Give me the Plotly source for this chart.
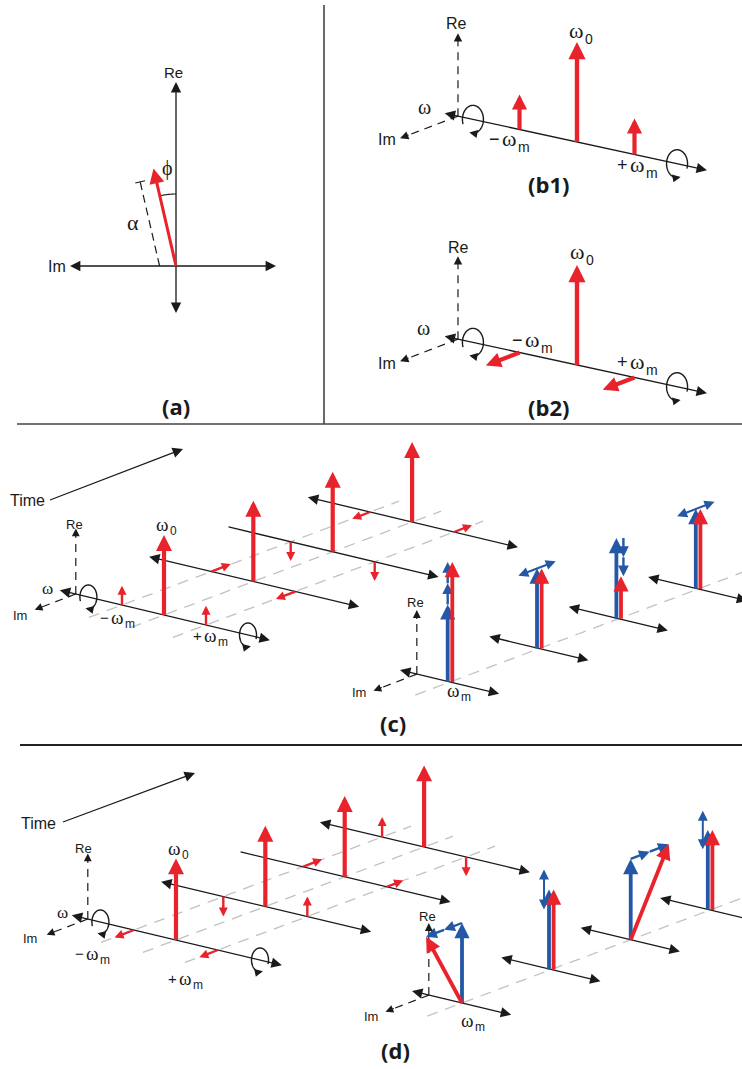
import numpy as np
import plotly.graph_objects as go

W, H = 742, 1069
RED = "#E8232B"
BLUE = "#2458A6"
BLACK = "#1A1A1A"
GREY = "#C2C2C2"
SANS = "Liberation Sans, Arial, sans-serif"
SERIF = "Liberation Serif, serif"
BOLD = "Open Sans, Liberation Sans, sans-serif"

# ------------------------------------------------------------------ data
# (a) one phasor: amplitude alpha and phase phi (degrees from the Re axis)
A_AMPLITUDE = 1.0
A_PHASE_DEG = 13.0

# (b1) amplitude modulation, (b2) phase modulation: lines at -wm, w0, +wm
B_FREQ = [-1.0, 0.0, 1.0]
B1_RE = [0.35, 1.0, 0.36]
B1_IM = [0.0, 0.0, 0.0]
B2_RE = [0.0, 1.0, 0.0]
B2_IM = [0.36, 0.0, 0.34]

# (c), (d): four snapshots along time
SNAP_T = [0.0, 1.08, 2.04, 3.0]
SIDEBAND_F = [-1.0, 1.0]
C_CARRIER = [1.0, 1.01, 1.0, 1.0]
C_LSB_RE = [0.24, 0.0, -0.24, 0.0]
C_LSB_IM = [0.0, -0.26, 0.0, 0.24]
C_USB_RE = [0.24, 0.0, -0.24, 0.0]
C_USB_IM = [0.0, 0.26, 0.0, -0.24]
D_CARRIER = [1.02, 1.01, 1.01, 1.02]
D_LSB_RE = [0.0, -0.25, 0.0, 0.25]
D_LSB_IM = [0.26, 0.0, -0.26, 0.0]
D_USB_RE = [0.0, 0.25, 0.0, -0.24]
D_USB_IM = [0.25, 0.0, -0.22, 0.0]

# component at wm: blue reference + two blue sideband terms -> red resultant
C_REF = [0.97, 1.0, 1.01, 1.0]
C_SB1_RE = [0.265, 0.0, -0.24, 0.0]
C_SB1_IM = [0.0, 0.25, 0.0, 0.25]
C_SB2_RE = [0.265, 0.0, -0.24, 0.0]
C_SB2_IM = [0.0, -0.25, 0.0, -0.25]
D_REF = [1.0, 1.0, 1.01, 1.0]
D_SB1_RE = [0.0, 0.25, 0.0, 0.24]
D_SB1_IM = [0.24, 0.0, -0.255, 0.0]
D_SB2_RE = [0.0, -0.25, 0.0, -0.24]
D_SB2_IM = [0.24, 0.0, -0.255, 0.0]

# ------------------------------------------------------------------ geometry (drawing layout)
IMDIR = np.array([-0.934, 0.358])
GEO = {
    "b1": dict(o=(577, 142), U=(57.5, 12.5), T=(0, 0), S=100),
    "b2": dict(o=(577, 365), U=(57.5, 12.5), T=(0, 0), S=100),
    "cL": dict(o=(164, 615), U=(42, 10), T=(82.7, -31), S=80),
    "cR": dict(o=(450, 682), U=(42, 10), T=(82.7, -31), S=80),
    "dL": dict(o=(176, 940), U=(42, 10), T=(82.7, -31), S=80),
    "dR": dict(o=(462, 1003), U=(42, 10), T=(82.7, -31), S=80),
}


def proj(key, f=0.0, t=0.0, re=0.0, im=0.0):
    g = GEO[key]
    x = g["o"][0] + f * g["U"][0] + t * g["T"][0] + im * g["S"] * IMDIR[0]
    y = g["o"][1] + f * g["U"][1] + t * g["T"][1] - re * g["S"] + im * g["S"] * IMDIR[1]
    return (float(x), float(y))


ann, shp = [], []


def arrow(p0, p1, color, width, size, both=False, head=2):
    ann.append(dict(x=p1[0], y=p1[1], ax=p0[0], ay=p0[1], xref="x", yref="y",
                    axref="x", ayref="y", text="", showarrow=True, arrowhead=head,
                    arrowsize=size, arrowwidth=width, arrowcolor=color,
                    arrowside="end+start" if both else "end",
                    startarrowhead=head, startarrowsize=size, standoff=0,
                    startstandoff=0, borderpad=0, borderwidth=0, font=dict(size=1)))


def seg(p0, p1, color, width, dash=None):
    ln = dict(color=color, width=width)
    if dash:
        ln["dash"] = dash
    shp.append(dict(type="line", xref="x", yref="y", x0=p0[0], y0=p0[1],
                    x1=p1[0], y1=p1[1], line=ln, layer="above"))


def dashed_arrow(p0, p1, color=BLACK, width=1.2, size=1.4, head_len=9):
    v = np.subtract(p1, p0)
    u = v / np.hypot(*v)
    q = tuple(np.array(p1) - u * head_len)
    seg(p0, q, color, width, "8px,6px")
    arrow(q, p1, color, width, size)


def path(xs, ys, color, width):
    d = "M " + " L ".join(f"{x:.2f},{y:.2f}" for x, y in zip(xs, ys))
    shp.append(dict(type="path", path=d, xref="x", yref="y",
                    line=dict(color=color, width=width), layer="above"))


def rotation(c, a, b, sense):
    if sense < 0:
        th = np.radians(np.linspace(200, -110, 80))
    else:
        th = np.radians(np.linspace(-20, 290, 80))
    xs = c[0] + a * np.cos(th)
    ys = c[1] - b * np.sin(th)
    path(xs[:-3], ys[:-3], BLACK, 1.4)
    arrow((xs[-7], ys[-7]), (xs[-1], ys[-1]), BLACK, 1.4, 1.15)


def label(x, y, s, size=14, family=SANS, color=BLACK, xanchor="center"):
    ann.append(dict(x=x, y=y, xref="x", yref="y", text=s, showarrow=False,
                    font=dict(size=size, family=family, color=color),
                    xanchor=xanchor, yanchor="middle"))


def wlabel(cx, cy, size, prefix="", sub=""):
    """omega glyph centred at (cx, cy) with optional sign and subscript."""
    label(cx, cy - 0.1 * size, "ω", size, SERIF)
    if prefix:
        label(cx - 0.3 * size, cy - 0.08 * size, prefix, int(round(size * 0.8)), SANS,
              xanchor="right")
    if sub:
        label(cx + 0.3 * size, cy + 0.28 * size, sub, int(round(size * 0.62)), SANS,
              xanchor="left")


# ------------------------------------------------------------------ separators
seg((324, 5), (324, 424), "#444444", 1.6)
seg((17, 424), (742, 424), "#444444", 1.6)
seg((20, 745), (742, 745), "#222222", 1.8)

# ------------------------------------------------------------------ (a)
OA, SA = (176.0, 266.0), 100.0
arrow((OA[0], OA[1] + 47), (OA[0], OA[1] - 184), BLACK, 1.3, 1.6, both=True)
arrow((OA[0] - 106, OA[1]), (OA[0] + 100, OA[1]), BLACK, 1.3, 1.6, both=True)
ph = np.radians(A_PHASE_DEG)
dvec = np.array([-np.sin(ph), -np.cos(ph)])
nvec = np.array([-np.cos(ph), np.sin(ph)])
tip = np.array(OA) + A_AMPLITUDE * SA * dvec
d0 = np.array(OA) + 16 * nvec + 16 * np.tan(ph) * dvec
d1 = np.array(OA) + 16 * nvec + (A_AMPLITUDE * SA - 10) * dvec
seg(tuple(d0), tuple(d1), BLACK, 1.2, "8px,5px")
seg(tuple(d1 - 5 * nvec), tuple(d1 + 5 * nvec), BLACK, 1.2)
arc_t = np.linspace(0, ph, 20)
path(OA[0] - 72 * np.sin(arc_t), OA[1] - 72 * np.cos(arc_t), BLACK, 1.1)
arrow(OA, tuple(tip), RED, 3, 1.0)
label(173, 72, "Re", 15)
label(57, 266, "Im", 16)
label(167, 168, "ϕ", 20, SERIF)
label(133, 222, "α", 22, SERIF)
label(176, 406, "<b>(a)</b>", 22, BOLD)


# ------------------------------------------------------------------ (b1), (b2)
def draw_b(key, re_l, im_l):
    arrow(proj(key, f=-2.3), proj(key, f=2.26), BLACK, 1.3, 1.6, both=True)
    base = proj(key, f=-2.07)
    dashed_arrow(base, proj(key, f=-2.07, re=0.83))
    dashed_arrow(base, proj(key, f=-2.07, im=0.62))
    rotation(proj(key, f=-1.81), 10.5, 14, -1)
    rotation(proj(key, f=1.74), 10.5, 14, 1)
    for f, r, i in zip(B_FREQ, re_l, im_l):
        w, s = (4.4, 0.78) if f == 0 else (4.2, 0.72)
        arrow(proj(key, f=f), proj(key, f=f, re=r, im=i), RED, w, s)


draw_b("b1", B1_RE, B1_IM)
label(456, 23, "Re", 16)
label(387, 139, "Im", 16)
wlabel(424, 109, 20)
wlabel(576, 33, 22, sub="0")
wlabel(509, 141, 22, prefix="−", sub="m")
wlabel(637, 167, 22, prefix="+", sub="m")
label(548, 184, "<b>(b1)</b>", 22, BOLD)

draw_b("b2", B2_RE, B2_IM)
label(458, 247, "Re", 16)
label(387, 363, "Im", 16)
wlabel(423, 330, 20)
wlabel(577, 254, 22, sub="0")
wlabel(532, 342, 22, prefix="−", sub="m")
wlabel(637, 364, 22, prefix="+", sub="m")
label(548, 407, "<b>(b2)</b>", 22, BOLD)


# ------------------------------------------------------------------ (c), (d)
traces = []


def guides(key, fs, t0, t1):
    xs, ys = [], []
    for f in fs:
        a, b = proj(key, f=f, t=t0), proj(key, f=f, t=t1)
        xs += [a[0], b[0], None]
        ys += [a[1], b[1], None]
    traces.append(go.Scatter(x=xs, y=ys, mode="lines", hoverinfo="skip",
                             line=dict(color=GREY, width=1.3, dash="11px,8px")))


def draw_left(key, carrier, lre, lim, ure, uim):
    guides(key, [SIDEBAND_F[0], 0.0, SIDEBAND_F[1]], -0.4, 3.35)
    for k in reversed(range(4)):
        t = SNAP_T[k]
        arrow(proj(key, f=-2.48, t=t), proj(key, f=2.52, t=t), BLACK, 1.3, 1.6, both=(k != 2))
        arrow(proj(key, t=t), proj(key, t=t, re=carrier[k]), RED, 4.2, 0.76)
        for f, r, i in ((SIDEBAND_F[0], lre[k], lim[k]), (SIDEBAND_F[1], ure[k], uim[k])):
            arrow(proj(key, f=f, t=t), proj(key, f=f, t=t, re=r, im=i), RED, 2.4, 0.75)
    base = proj(key, f=-2.1)
    dashed_arrow(base, proj(key, f=-2.1, re=0.82), size=1.3)
    dashed_arrow(base, proj(key, f=-2.1, im=0.55), size=1.3)
    rotation(proj(key, f=-1.8), 8.5, 12, -1)
    rotation(proj(key, f=2.0), 8.5, 12, 1)


def draw_right(key, ref, s1r, s1i, s2r, s2i, sb_dx, re_len):
    guides(key, [0.0], -0.42, 3.7)
    for k in reversed(range(4)):
        t = SNAP_T[k]
        arrow(proj(key, f=-1.19, t=t), proj(key, f=1.17, t=t), BLACK, 1.3, 1.6, both=True)
        rr = ref[k] + s1r[k] + s2r[k]
        ri = s1i[k] + s2i[k]
        side = 2.3 if abs(ri) < 1e-9 else 0.0
        b0 = proj(key, t=t)
        bt = proj(key, t=t, re=ref[k])
        arrow((b0[0] - side, b0[1]), (bt[0] - side, bt[1]), BLUE, 3.8, 0.8)
        sb1 = (s1r[k], s1i[k])
        sb2 = (s2r[k], s2i[k])
        dx = sb_dx[k] - side
        if abs(sb1[0] + sb2[0]) < 1e-9 and abs(sb1[1] + sb2[1]) < 1e-9:
            p1 = proj(key, t=t, re=ref[k] + sb1[0], im=sb1[1])
            p2 = proj(key, t=t, re=ref[k] + sb2[0], im=sb2[1])
            arrow((p2[0] + dx, p2[1]), (p1[0] + dx, p1[1]), BLUE, 2.0, 1.0, both=True)
        else:
            q0 = proj(key, t=t, re=ref[k])
            q1 = proj(key, t=t, re=ref[k] + sb1[0], im=sb1[1])
            q2 = proj(key, t=t, re=ref[k] + sb1[0] + sb2[0], im=sb1[1] + sb2[1])
            arrow((q0[0] + dx, q0[1]), (q1[0] + dx, q1[1]), BLUE, 2.4, 0.9)
            arrow((q1[0] + dx, q1[1]), (q2[0] + dx, q2[1]), BLUE, 2.4, 0.9)
        rt = proj(key, t=t, re=rr, im=ri)
        arrow((b0[0] + side, b0[1]), (rt[0] + side, rt[1]), RED, 3.8, 0.8)
    base = proj(key, f=-0.79)
    dashed_arrow(base, proj(key, f=-0.79, re=re_len), size=1.3)
    dashed_arrow(base, proj(key, f=-0.79, im=0.58), size=1.3)


# (c)
arrow((50, 500), (183, 449), BLACK, 1.3, 1.6)
label(27, 500, "Time", 16)
draw_left("cL", C_CARRIER, C_LSB_RE, C_LSB_IM, C_USB_RE, C_USB_IM)
draw_right("cR", C_REF, C_SB1_RE, C_SB1_IM, C_SB2_RE, C_SB2_IM, [0, 0, 7, 0], 0.8)
label(74, 524, "Re", 13)
label(20, 615, "Im", 13)
wlabel(47, 590, 17)
wlabel(162, 526, 19, sub="0")
wlabel(117, 619, 19, prefix="−", sub="m")
wlabel(210, 637, 19, prefix="+", sub="m")
label(415, 602, "Re", 13)
label(359, 692, "Im", 13)
wlabel(453, 692, 19, sub="m")
label(393, 723, "<b>(c)</b>", 22, BOLD)

# (d)
arrow((63, 822), (195, 773), BLACK, 1.3, 1.6)
label(38, 823, "Time", 16)
draw_left("dL", D_CARRIER, D_LSB_RE, D_LSB_IM, D_USB_RE, D_USB_IM)
draw_right("dR", D_REF, D_SB1_RE, D_SB1_IM, D_SB2_RE, D_SB2_IM, [0, -5, 0, -5], 0.9)
label(83, 848, "Re", 13)
label(30, 938, "Im", 13)
wlabel(62, 914, 17)
wlabel(174, 850, 19, sub="0")
wlabel(92, 955, 19, prefix="−", sub="m")
wlabel(185, 980, 19, prefix="+", sub="m")
label(427, 916, "Re", 13)
label(371, 1016, "Im", 13)
wlabel(467, 1022, 19, sub="m")
label(395, 1050, "<b>(d)</b>", 22, BOLD)

fig = go.Figure(traces)
fig.update_layout(
    width=W, height=H, autosize=False,
    margin=dict(l=0, r=0, t=0, b=0),
    xaxis=dict(range=[0, W], visible=False, fixedrange=True),
    yaxis=dict(range=[H, 0], visible=False, fixedrange=True),
    plot_bgcolor="white", paper_bgcolor="white", showlegend=False,
    annotations=ann, shapes=shp,
)
fig.write_html("out.html", config={"displayModeBar": False},
               post_script="document.body.style.margin='0';document.body.style.padding='0';")
